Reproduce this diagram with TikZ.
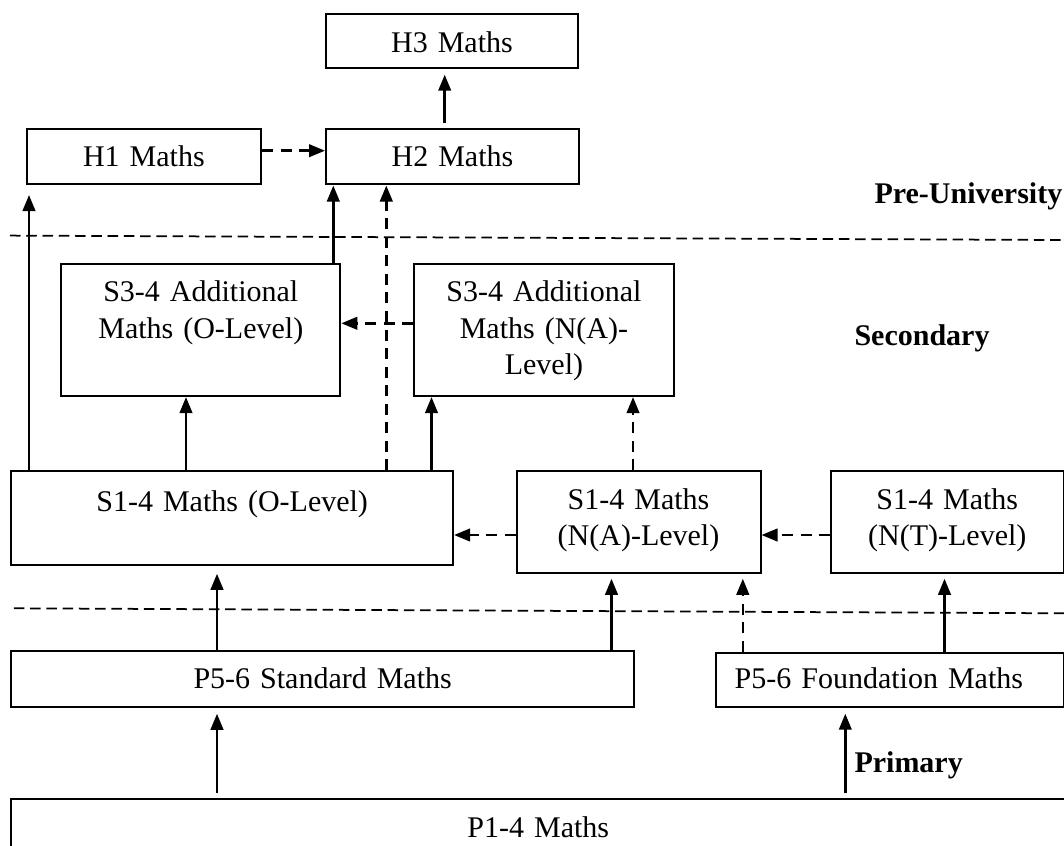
\documentclass[tikz,border=0pt]{standalone}
\usepackage{fontspec}
\setmainfont{Liberation Serif}
\usetikzlibrary{arrows.meta}

\tikzset{
  box/.style={draw, line width=0.8pt, inner sep=0pt, align=center, anchor=north west},
  arr/.style={-{Triangle[length=6.4pt,width=5pt]}, line width=1pt},
  darr/.style={arr, dash pattern=on 4.4pt off 3pt},
  sep/.style={line width=0.7pt, dash pattern=on 4.2pt off 2.3pt}
}

\begin{document}
\begin{tikzpicture}[x=0.4pt, y=-0.4pt, font=\fontsize{12}{14.5}\selectfont]
\useasboundingbox (0,0) rectangle (1064,845);
% 分隔线
\draw[sep] (10,235.6) -- (1064,240);
\draw[sep] (13.8,608.3) -- (1064,613.3);
% 大学预科
\node[box, text width=100.8pt, text height=15.6pt, text depth=6.1pt] (h3) at (325,12.7) {H3 Maths};
\node[box, text width=93.8pt, text height=15pt, text depth=7pt] (h1) at (25.6,128.5) {H1 Maths};
\node[box, text width=101.2pt, text height=15pt, text depth=7pt] (h2) at (325,128.5) {H2 Maths};
\node[anchor=base west, inner sep=0pt] (lpu) at (874,204) {\textbf{Pre-University}};
% 中学
\node[box, text width=111.6pt, text height=15pt, text depth=37.7pt] (ao) at (60.3,263.3) {S3-4 Additional\\Maths (O-Level)};
\node[box, text width=103.8pt, text height=15pt, text depth=37.7pt] (aa) at (413.2,263.3) {S3-4 Additional\\Maths (N(A)-\\Level)};
\node[anchor=base west, inner sep=0pt] (lsec) at (854,345) {\textbf{Secondary}};
\node[box, text width=176.7pt, text height=16pt, text depth=21.6pt] (so) at (10.3,470) {S1-4 Maths (O-Level)};
\node[box, text width=97.6pt, text height=15.3pt, text depth=25.4pt] (sa) at (515.5,470) {S1-4 Maths\\(N(A)-Level)};
\node[box, text width=93pt, text height=15.3pt, text depth=25.4pt] (st) at (830,470) {S1-4 Maths\\(N(T)-Level)};
% 小学
\node[box, text width=249.1pt, text height=14.9pt, text depth=7.4pt] (ps) at (10.3,650) {P5-6 Standard Maths};
\node[box, align=left, inner xsep=7.6pt, text width=124pt, text height=14.2pt, text depth=7.4pt] (pf) at (714.7,651.7) {P5-6 Foundation Maths};
\node[anchor=base west, inner sep=0pt] (lpri) at (854,772.7) {\textbf{Primary}};
\node[box, text width=421.6pt, text height=15.4pt, text depth=8pt] (pb) at (10.3,798.3) {P1-4 Maths};
% 箭头
\draw[arr, shorten <=2.2pt, shorten >=2.3pt] (444.7,0 |- h2.north) -- (444.7,0 |- h3.south);
\draw[darr] (h1.east |- 0,150.7) -- (h2.west |- 0,150.7);
\draw[arr, shorten >=3.8pt] (29,0 |- so.north) -- (29,0 |- h1.south);
\foreach \x/\a/\b in {333.3/ao/h2, 186/so/ao, 431.5/so/aa}
  \draw[arr] (\x,0 |- \a.north) -- (\x,0 |- \b.south);
\foreach \x/\a/\b in {386.3/so/h2, 633/sa/aa}
  \draw[darr] (\x,0 |- \a.north) -- (\x,0 |- \b.south);
\draw[darr] (aa.west |- 0,323.3) -- (ao.east |- 0,323.3);
\draw[darr] (sa.west |- 0,535) -- (so.east |- 0,535);
\draw[darr] (st.west |- 0,535) -- (sa.east |- 0,535);
\draw[arr, shorten >=3.1pt] (217,0 |- ps.north) -- (217,0 |- so.south);
\draw[arr, shorten >=2pt] (611.5,0 |- ps.north) -- (611.5,0 |- sa.south);
\draw[darr, shorten >=2pt] (742.8,0 |- pf.north) -- (742.8,0 |- sa.south);
\draw[arr, shorten >=2pt] (944.5,0 |- pf.north) -- (944.5,0 |- st.south);
\foreach \x/\b in {217/ps, 845.3/pf}
  \draw[arr, shorten <=2pt, shorten >=2.4pt] (\x,0 |- pb.north) -- (\x,0 |- \b.south);
\end{tikzpicture}
\end{document}
